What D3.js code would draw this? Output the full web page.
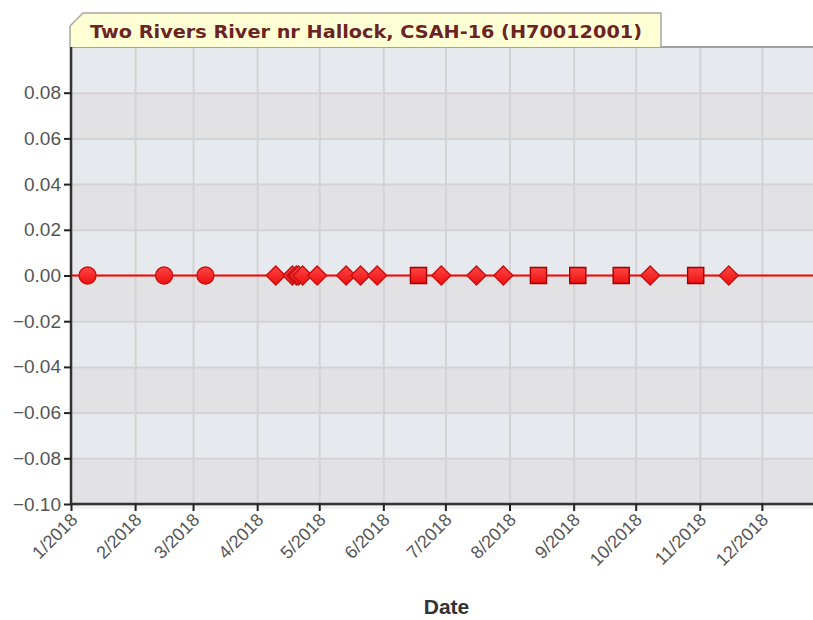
<!DOCTYPE html>
<html>
<head>
<meta charset="utf-8">
<script src="https://cdn.jsdelivr.net/npm/d3@7/dist/d3.min.js"></script>
<style>
  html, body { margin: 0; padding: 0; background: #ffffff; }
  svg { display: block; }
</style>
</head>
<body>
<div class="chart"></div>
<script>
/* Sample dates, split by the marker shape used in the original chart */
var circleDates = ["2018-01-09", "2018-02-15", "2018-03-07"];
var circleValues = [0, 0, 0];

var diamondDates = [
  "2018-04-10", "2018-04-18", "2018-04-20", "2018-04-21", "2018-04-23",
  "2018-04-30", "2018-05-14", "2018-05-21", "2018-05-29", "2018-06-29",
  "2018-07-16", "2018-07-29", "2018-10-08", "2018-11-15"
];
var diamondValues = [0, 0, 0, 0, 0, 0, 0, 0, 0, 0, 0, 0, 0, 0];

var squareDates = ["2018-06-18", "2018-08-15", "2018-09-03", "2018-09-24", "2018-10-30"];
var squareValues = [0, 0, 0, 0, 0];

var yTicks = [-0.10, -0.08, -0.06, -0.04, -0.02, 0.00, 0.02, 0.04, 0.06, 0.08];
var xTickMonths = ["2018-01-01", "2018-02-01", "2018-03-01", "2018-04-01",
                   "2018-05-01", "2018-06-01", "2018-07-01", "2018-08-01",
                   "2018-09-01", "2018-10-01", "2018-11-01", "2018-12-01"];

var TITLE = "Two Rivers River nr Hallock, CSAH-16 (H70012001)";
var WIDTH = 813;
var HEIGHT = 620;
var FONT = "'Liberation Sans', Arial, sans-serif";

/* plot area; the right edge runs past the window like in the source */
var PLOT = { left: 71, top: 47, right: 826, bottom: 504 };

var parseDate = d3.timeParse("%Y-%m-%d");

function buildPoints(dates, values, shape) {
  return dates.map(function toPoint(d, i) {
    return { date: parseDate(d), value: values[i], shape: shape };
  });
}

var points = buildPoints(circleDates, circleValues, "circle")
  .concat(buildPoints(diamondDates, diamondValues, "diamond"))
  .concat(buildPoints(squareDates, squareValues, "square"));

var linePoints = points.slice().sort(function byDate(a, b) {
  return a.date - b.date;
});

var x = d3.scaleTime()
  .domain([parseDate("2018-01-01"), parseDate("2019-01-01")])
  .range([PLOT.left, PLOT.right]);

var y = d3.scaleLinear()
  .domain([-0.10, 0.10])
  .range([PLOT.bottom, PLOT.top]);

var svg = d3.select("div.chart")
  .append("svg")
  .attr("width", WIDTH)
  .attr("height", HEIGHT);

var defs = svg.append("defs");
var grad = defs.append("linearGradient")
  .attr("id", "markerFill")
  .attr("x1", "0").attr("y1", "0")
  .attr("x2", "0").attr("y2", "1");
grad.append("stop").attr("offset", "0%").attr("stop-color", "#ff4545");
grad.append("stop").attr("offset", "100%").attr("stop-color", "#ec1010");

defs.append("clipPath").attr("id", "plotClip")
  .append("rect")
  .attr("x", PLOT.left).attr("y", PLOT.top)
  .attr("width", PLOT.right - PLOT.left)
  .attr("height", PLOT.bottom - PLOT.top);

/* Alternating horizontal bands */
var bandEdges = yTicks.concat([0.10]);
svg.append("g")
  .selectAll("rect")
  .data(bandEdges.slice(0, -1))
  .enter()
  .append("rect")
  .attr("x", PLOT.left)
  .attr("width", PLOT.right - PLOT.left)
  .attr("y", function bandY(d, i) { return y(bandEdges[i + 1]); })
  .attr("height", function bandH(d, i) { return y(d) - y(bandEdges[i + 1]); })
  .attr("fill", function bandFill(d, i) {
    return i % 2 === 1 ? "#e6e9ed" : "#e2e2e4";
  });

/* shadow under the bottom axis */
svg.append("rect")
  .attr("x", PLOT.left).attr("y", PLOT.bottom + 1)
  .attr("width", PLOT.right - PLOT.left).attr("height", 4)
  .attr("fill", "#f1f1f1");

/* Grid lines */
svg.append("g")
  .attr("transform", "translate(0," + PLOT.bottom + ")")
  .call(d3.axisBottom(x)
    .tickValues(xTickMonths.map(parseDate))
    .tickSize(-(PLOT.bottom - PLOT.top))
    .tickFormat(""))
  .call(function styleGrid(g) {
    g.select(".domain").remove();
    g.selectAll("line").attr("stroke", "#d3d3d5").attr("stroke-width", 2);
  });

svg.append("g")
  .attr("transform", "translate(" + PLOT.left + ",0)")
  .call(d3.axisLeft(y)
    .tickValues(yTicks)
    .tickSize(-(PLOT.right - PLOT.left))
    .tickFormat(""))
  .call(function styleGrid(g) {
    g.select(".domain").remove();
    g.selectAll("line").attr("stroke", "#d3d3d5").attr("stroke-width", 2);
  });

/* top border of the plot */
svg.append("line")
  .attr("x1", PLOT.left).attr("x2", PLOT.right)
  .attr("y1", PLOT.top).attr("y2", PLOT.top)
  .attr("stroke", "#a3a3a3").attr("stroke-width", 2);

/* Title tab */
var tabLeft = 70;
var tabRight = 661;
var tabTop = 13;
svg.append("path")
  .attr("d", "M" + tabLeft + "," + (PLOT.top) +
             "L" + tabLeft + "," + (tabTop + 13) +
             "L" + (tabLeft + 13) + "," + tabTop +
             "L" + tabRight + "," + tabTop +
             "L" + tabRight + "," + PLOT.top)
  .attr("fill", "#ffffd6")
  .attr("stroke", "#a8a8a0")
  .attr("stroke-width", 1.5);

svg.append("text")
  .attr("x", 90)
  .attr("y", 38)
  .attr("font-family", "'DejaVu Sans', Verdana, sans-serif")
  .attr("font-weight", "bold")
  .attr("font-size", "18px")
  .attr("textLength", 552)
  .attr("lengthAdjust", "spacingAndGlyphs")
  .attr("fill", "#6b2424")
  .text(TITLE);

/* Series line */
var line = d3.line()
  .x(function lx(d) { return x(d.date); })
  .y(function ly(d) { return y(d.value); });

svg.append("path")
  .datum(linePoints)
  .attr("clip-path", "url(#plotClip)")
  .attr("d", function extendLine(d) {
    /* the line runs across the whole plot width */
    return "M" + PLOT.left + "," + y(d[0].value) + line(d).replace(/^M/, "L") +
           "L" + PLOT.right + "," + y(d[d.length - 1].value);
  })
  .attr("fill", "none")
  .attr("stroke", "#ff0000")
  .attr("stroke-width", 2);

/* Markers */
var symbolFor = {
  circle: d3.symbol().type(d3.symbolCircle).size(225),
  square: d3.symbol().type(d3.symbolSquare).size(260)
};

svg.append("g")
  .selectAll("path")
  .data(points)
  .enter()
  .append("path")
  .attr("transform", function place(d) {
    return "translate(" + x(d.date) + "," + y(d.value) + ")";
  })
  .attr("d", function shape(d) {
    if (d.shape === "diamond") {
      return "M0,-9.5L9.5,0L0,9.5L-9.5,0Z";
    }
    return symbolFor[d.shape]();
  })
  .attr("fill", "url(#markerFill)")
  .attr("stroke", function edge(d) { return d.shape === "square" ? "#a00000" : "#c81010"; })
  .attr("stroke-width", 1.4);

/* Axes */
var yAxis = svg.append("g")
  .attr("transform", "translate(" + PLOT.left + ",0)")
  .call(d3.axisLeft(y)
    .tickValues(yTicks)
    .tickSize(7)
    .tickPadding(3)
    .tickFormat(d3.format(".2f")));
yAxis.select(".domain")
  .attr("d", "M0," + PLOT.top + "V" + PLOT.bottom)
  .attr("stroke", "#333333").attr("stroke-width", 2.5);
yAxis.selectAll(".tick line").attr("stroke", "#222222").attr("stroke-width", 2);
yAxis.selectAll("text")
  .attr("font-family", FONT)
  .attr("font-size", "19px")
  .attr("fill", "#555555");

var xAxis = svg.append("g")
  .attr("transform", "translate(0," + PLOT.bottom + ")")
  .call(d3.axisBottom(x)
    .tickValues(xTickMonths.map(parseDate))
    .tickSize(7)
    .tickFormat(d3.timeFormat("%-m/%Y")));
xAxis.select(".domain")
  .attr("d", "M" + PLOT.left + ",0H" + PLOT.right)
  .attr("stroke", "#333333").attr("stroke-width", 2.5);
xAxis.selectAll(".tick line").attr("stroke", "#222222").attr("stroke-width", 2);
xAxis.selectAll("text")
  .attr("font-family", FONT)
  .attr("font-size", "18px")
  .attr("fill", "#555555")
  .attr("text-anchor", "end")
  .attr("dy", null)
  .attr("y", 0)
  .attr("transform", "translate(7,17) rotate(-45)");

svg.append("text")
  .attr("x", (PLOT.left + PLOT.right) / 2 - 2)
  .attr("y", 614)
  .attr("text-anchor", "middle")
  .attr("font-family", FONT)
  .attr("font-weight", "bold")
  .attr("font-size", "21px")
  .attr("fill", "#333333")
  .text("Date");
</script>
</body>
</html>
